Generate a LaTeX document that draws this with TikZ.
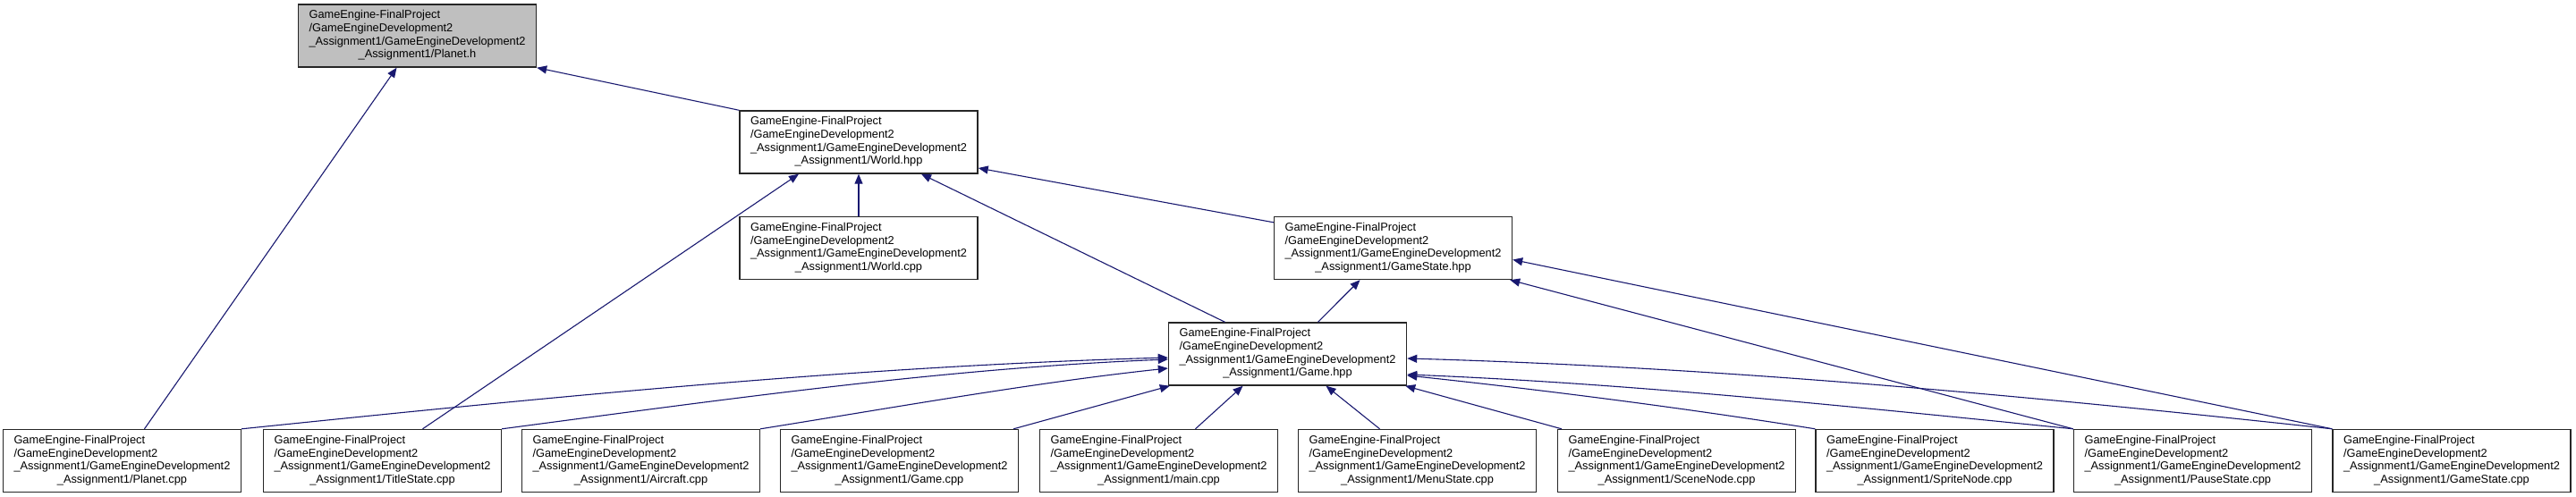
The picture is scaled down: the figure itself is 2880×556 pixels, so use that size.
\documentclass[tikz,border=0pt]{standalone}
\usepackage{fontspec}
\setmainfont{Liberation Sans}
\usetikzlibrary{arrows.meta,calc}
\definecolor{edgecol}{HTML}{191970}
\definecolor{grayfill}{HTML}{BFBFBF}
\newcommand{\fileLabel}[1]{\begin{tabular}{@{}l@{}}GameEngine-FinalProject\\/GameEngineDevelopment2\\\_Assignment1/GameEngineDevelopment2\\\multicolumn{1}{@{}c@{}}{\_Assignment1/#1}\end{tabular}}
\begin{document}
\begin{tikzpicture}[x=1pt,y=-1pt,
  file/.style={draw=black!85, line width=1.4pt, fill=white, minimum width=266pt, minimum height=70pt, inner sep=0pt, font=\fontsize{12.8}{14.7}\selectfont, anchor=center},
  edge/.style={draw=edgecol, line width=1.1pt, -{Triangle[length=11pt,width=9pt]}}]
\useasboundingbox (0,0) rectangle (2880,556);
\fill[white] (0,0) rectangle (2880,556);
% nodes
\node[file, fill=grayfill] (ph) at (466.5,40) {\fileLabel{Planet.h}};
\node[file] (wh) at (960,159) {\fileLabel{World.hpp}};
\node[file] (wc) at (960,277.5) {\fileLabel{World.cpp}};
\node[file] (gsh) at (1557.5,277.5) {\fileLabel{GameState.hpp}};
\node[file] (gh) at (1439.5,396) {\fileLabel{Game.hpp}};
\node[file] (pc) at (136.5,515.5) {\fileLabel{Planet.cpp}};
\node[file] (tc) at (427.5,515.5) {\fileLabel{TitleState.cpp}};
\node[file] (ac) at (716.5,515.5) {\fileLabel{Aircraft.cpp}};
\node[file] (gc) at (1005.5,515.5) {\fileLabel{Game.cpp}};
\node[file] (mc) at (1295.5,515.5) {\fileLabel{main.cpp}};
\node[file] (msc) at (1584.5,515.5) {\fileLabel{MenuState.cpp}};
\node[file] (snc) at (1874.5,515.5) {\fileLabel{SceneNode.cpp}};
\node[file] (spc) at (2163,515.5) {\fileLabel{SpriteNode.cpp}};
\node[file] (psc) at (2451.5,515.5) {\fileLabel{PauseState.cpp}};
\node[file] (gsc) at (2741,515.5) {\fileLabel{GameState.cpp}};
% edges
\draw[edge] (wh.north west) -- (ph.south east);
\draw[edge] ($(pc.north)+(25,0)$) -- ($(ph.south)+(-23,0)$);
\draw[edge] (wc.north) -- (wh.south);
\draw[edge] ($(tc.north)+(45,0)$) -- ($(wh.south)+(-67,0)$);
\draw[edge] ($(gh.north)+(-70,0)$) -- ($(wh.south)+(70,0)$);
\draw[edge] ($(gsh.north west)+(0,7)$) -- ($(wh.east)+(0,29)$);
\draw[edge] ($(gh.north)+(34,0)$) -- ($(gsh.south)+(-37,0)$);
\draw[edge] (psc.north west) -- ($(gsh.south east)+(-3,0)$);
\draw[edge] (gsc.north west) -- ($(gsh.east)+(0,13)$);
\draw[edge] (pc.north east) .. controls +(350,-36) and +(-350,10) .. ($(gh.west)+(0,4)$);
\draw[edge] (tc.north east) .. controls +(250,-33) and +(-250,10) .. ($(gh.west)+(0,6)$);
\draw[edge] (ac.north east) .. controls +(150,-24) and +(-150,16) .. ($(gh.west)+(0,16)$);
\draw[edge] ($(gc.north east)+(-6,0)$) -- ($(gh.south west)+(2,0)$);
\draw[edge] ($(mc.north)+(41,0)$) -- ($(gh.south)+(-50,0)$);
\draw[edge] ($(msc.north)+(-42,0)$) -- ($(gh.south)+(43,0)$);
\draw[edge] ($(snc.north west)+(5,0)$) -- ($(gh.south east)+(-2,0)$);
\draw[edge] (spc.north west) .. controls +(-150,-24) and +(150,16) .. ($(gh.east)+(0,24)$);
\draw[edge] (psc.north west) .. controls +(-250,-25) and +(250,10) .. ($(gh.east)+(0,23)$);
\draw[edge] (gsc.north west) .. controls +(-350,-38) and +(350,10) .. ($(gh.east)+(0,5)$);
\end{tikzpicture}
\end{document}
